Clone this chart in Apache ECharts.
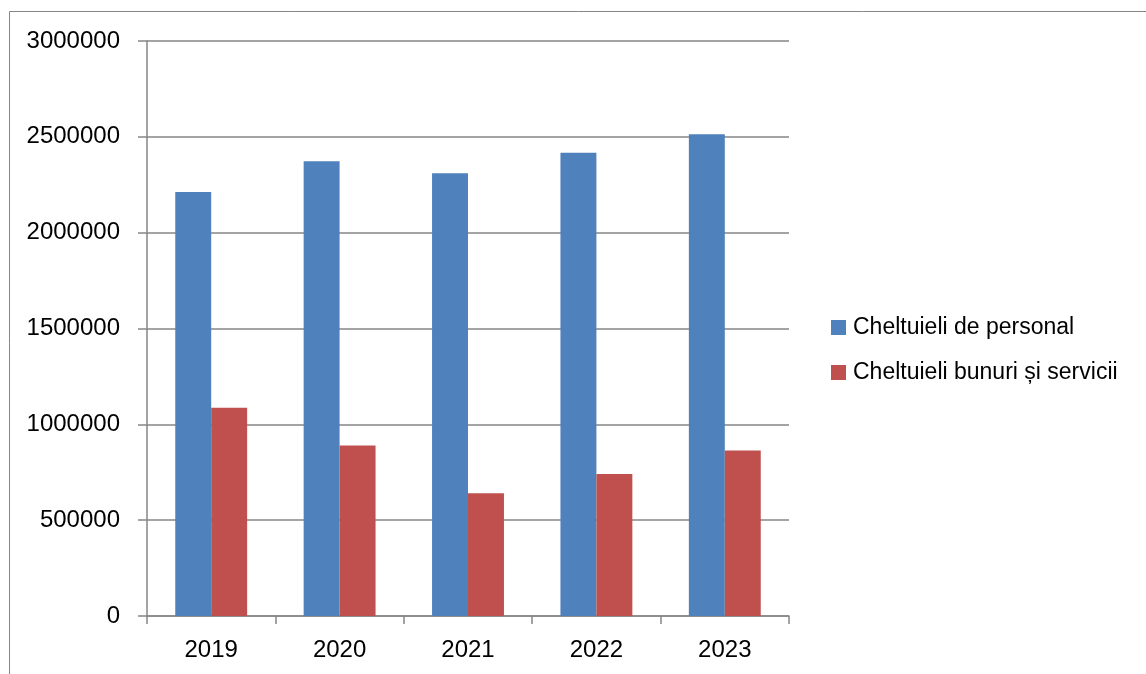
<!DOCTYPE html>
<html>
<head>
<meta charset="utf-8">
<script src="https://cdn.jsdelivr.net/npm/echarts@6/dist/echarts.min.js"></script>
<style>html,body{margin:0;padding:0;background:#fff}#c{width:1146px;height:674px}</style>
</head>
<body>
<div id="c"></div>
<script>
const categories = ['2019', '2020', '2021', '2022', '2023'];
const personal = [2212000, 2372000, 2310000, 2417000, 2513000];
const bunuri = [1087000, 890000, 640000, 741000, 864000];
const seriesNames = ['Cheltuieli de personal', 'Cheltuieli bunuri și servicii'];

const font = 'Liberation Sans';
const chart = echarts.init(document.getElementById('c'));
chart.setOption({
  animation: false,
  textStyle: { fontFamily: font },
  graphic: [{
    type: 'rect', shape: { x: 9.5, y: 11.5, width: 1200, height: 700 },
    style: { fill: 'none', stroke: '#868686', lineWidth: 1 }, silent: true
  }],
  grid: { left: 147, right: 357, top: 41, bottom: 58 },
  legend: {
    orient: 'vertical', left: 826, top: 311, itemWidth: 15, itemHeight: 15, itemGap: 22,
    icon: 'rect',
    textStyle: { fontFamily: font, fontSize: 23, color: '#000', padding: [0, 0, 0, 2] },
    data: seriesNames
  },
  xAxis: {
    type: 'category', data: categories,
    axisLine: { lineStyle: { color: '#868686', width: 1.5 } },
    axisTick: { show: true, length: 8, lineStyle: { color: '#868686', width: 1.5 } },
    axisLabel: { color: '#000', fontSize: 24, fontFamily: font, margin: 22 }
  },
  yAxis: {
    type: 'value', min: 0, max: 3000000, interval: 500000,
    axisLine: { show: true, lineStyle: { color: '#868686', width: 1.5 } },
    axisTick: { show: true, length: 9, lineStyle: { color: '#868686', width: 1.5 } },
    splitLine: { lineStyle: { color: '#868686', width: 1.5 } },
    axisLabel: { color: '#000', fontSize: 24, fontFamily: font, margin: 27,
      formatter: v => String(v) }
  },
  series: [
    { name: seriesNames[0], type: 'bar', data: personal, barGap: '0%', barCategoryGap: '44%',
      itemStyle: { color: '#4F81BD' } },
    { name: seriesNames[1], type: 'bar', data: bunuri, barGap: '0%', barCategoryGap: '44%',
      itemStyle: { color: '#C0504D' } }
  ]
});
</script>
</body>
</html>
